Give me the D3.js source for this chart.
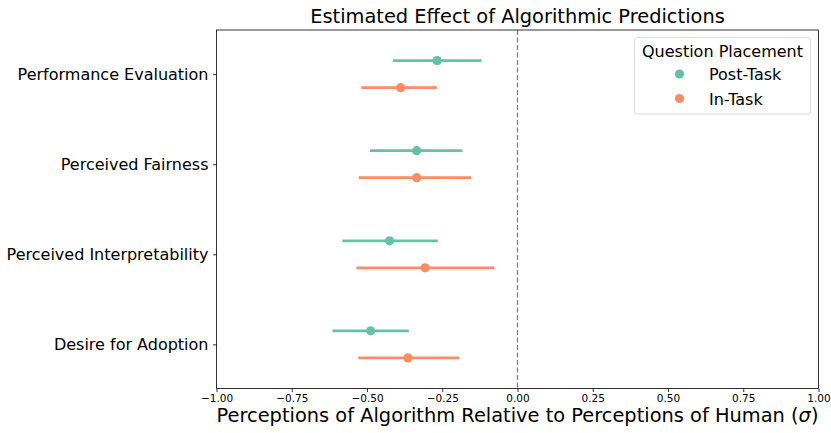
<!DOCTYPE html>
<html><head><meta charset="utf-8">
<script src="https://cdn.jsdelivr.net/npm/d3@7"></script>
<style>body{margin:0;background:#fff}text{font-family:"DejaVu Sans",sans-serif}</style>
</head><body>
<svg id="c" width="831" height="433"></svg>
<script>
const categories = ["Performance Evaluation","Perceived Fairness","Perceived Interpretability","Desire for Adoption"];
const seriesNames = ["Post-Task","In-Task"];
const postMean = [-0.267,-0.335,-0.425,-0.488];
const postLo   = [-0.414,-0.490,-0.582,-0.615];
const postHi   = [-0.119,-0.183,-0.265,-0.361];
const inMean   = [-0.388,-0.335,-0.307,-0.364];
const inLo     = [-0.519,-0.527,-0.535,-0.529];
const inHi     = [-0.268,-0.154,-0.077,-0.193];
const xTicks = [-1,-0.75,-0.5,-0.25,0,0.25,0.5,0.75,1];
const colors = ["#66c2a5","#fc8d62"];

const svg = d3.select("#c");
const L=216.5, R=818.5, T=30, B=388.5;
const x = d3.scaleLinear().domain([-1,1]).range([L,R]);
const y = d3.scaleLinear().domain([-0.49,3.49]).range([T,B]);
const dodge = 0.15;

const series = [
  {name:seriesNames[0], mean:postMean, lo:postLo, hi:postHi, off:-dodge, color:colors[0]},
  {name:seriesNames[1], mean:inMean, lo:inLo, hi:inHi, off:dodge, color:colors[1]}
];

// zero line
svg.append("line").attr("x1",x(0)).attr("x2",x(0)).attr("y1",T).attr("y2",B)
  .attr("stroke","#808080").attr("stroke-width",1.3).attr("stroke-dasharray","5,2.5");

series.forEach(s=>{
  const g = svg.append("g");
  categories.forEach((c,i)=>{
    g.append("line").attr("x1",x(s.lo[i])).attr("x2",x(s.hi[i]))
      .attr("y1",y(i+s.off)).attr("y2",y(i+s.off))
      .attr("stroke",s.color).attr("stroke-width",2.7);
    g.append("circle").attr("cx",x(s.mean[i])).attr("cy",y(i+s.off)).attr("r",4.6).attr("fill",s.color);
  });
});

// x axis
const xa = svg.append("g").attr("transform",`translate(0,${B})`)
  .call(d3.axisBottom(x).tickValues(xTicks).tickSize(3.5).tickPadding(2.5)
    .tickFormat(d=>d3.format(".2f")(d).replace("-","\u2212")));
xa.select(".domain").remove();
xa.selectAll("text").attr("font-size",10.5).attr("fill","#000").style("font-family","DejaVu Sans");
xa.selectAll("line").attr("stroke","#000").attr("stroke-width",0.8);

// y axis
const ya = svg.append("g").attr("transform",`translate(${L},0)`)
  .call(d3.axisLeft(y).tickValues(d3.range(categories.length)).tickSize(3.5).tickPadding(4.5)
    .tickFormat(i=>categories[i]));
ya.select(".domain").remove();
ya.selectAll("text").attr("font-size",16).attr("fill","#000").style("font-family","DejaVu Sans");
ya.selectAll("line").attr("stroke","#000").attr("stroke-width",0.8);

// frame
svg.append("rect").attr("x",L).attr("y",T).attr("width",R-L).attr("height",B-T)
  .attr("fill","none").attr("stroke","#000").attr("stroke-width",0.8);

// title
svg.append("text").attr("x",(L+R)/2).attr("y",23).attr("text-anchor","middle")
  .attr("font-size",19.4).text("Estimated Effect of Algorithmic Predictions");

// x label
const xl = svg.append("text").attr("x",(L+R)/2).attr("y",422).attr("text-anchor","middle").attr("font-size",19.4);
xl.append("tspan").text("Perceptions of Algorithm Relative to Perceptions of Human (");
xl.append("tspan").attr("font-style","italic").text("\u03C3");
xl.append("tspan").text(")");

// legend
const lg = svg.append("g");
lg.append("rect").attr("x",634.5).attr("y",37.5).attr("width",176).attr("height",76.5).attr("rx",3)
  .attr("fill","#fff").attr("fill-opacity",0.8).attr("stroke","#d9d9d9").attr("stroke-width",1);
lg.append("text").attr("x",722.5).attr("y",57).attr("text-anchor","middle").attr("font-size",16).text("Question Placement");
series.forEach((s,i)=>{
  const cy = 74 + i*24.5;
  lg.append("circle").attr("cx",679.5).attr("cy",cy).attr("r",4.6).attr("fill",s.color);
  lg.append("text").attr("x",709).attr("y",cy+6.3).attr("font-size",16).text(s.name);
});
</script>
</body></html>
